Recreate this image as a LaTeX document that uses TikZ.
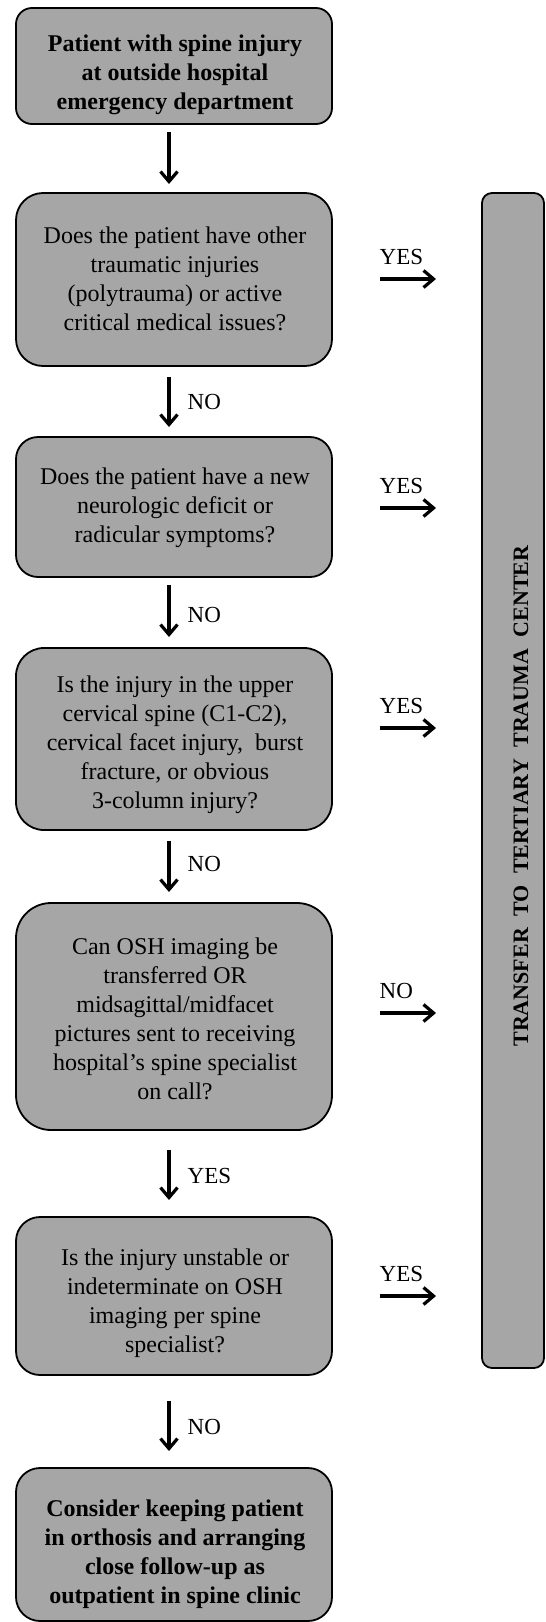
\documentclass[tikz,border=0pt]{standalone}
\usepackage{fontspec}
\setmainfont{Liberation Serif}
\usetikzlibrary{arrows.meta,calc}
\definecolor{boxgray}{RGB}{166,166,166}
\tikzset{
  flowbox/.style={draw=black, fill=boxgray, line width=1.8pt, outer sep=0pt,
    minimum width=316pt, inner sep=0pt},
  boxtext/.style={align=center, inner sep=0pt, font=\fontsize{24}{29}\selectfont},
  boldtext/.style={boxtext, font=\fontsize{24}{29}\selectfont\bfseries},
  varr/.style={line width=3.4pt, -{Straight Barb[length=10pt,width=17pt,line width=3.2pt]}},
  harr/.style={line width=3.4pt, -{Straight Barb[length=10pt,width=17pt,line width=3.2pt]},
    shorten <=48pt, shorten >=46pt},
  vlab/.style={anchor=west, xshift=17pt, inner sep=0pt, font=\fontsize{23}{27}\selectfont},
  hlab/.style={pos=0, anchor=base west, xshift=46pt, yshift=15pt, inner sep=0pt,
    font=\fontsize{23}{27}\selectfont}
}
\begin{document}
\begin{tikzpicture}[x=1pt,y=1pt]
\useasboundingbox (0,0) rectangle (546,-1622);
% boxes
\node[flowbox, minimum height=116pt, rounded corners=16pt] (b1) at (174,-66) {};
\node[flowbox, minimum height=173pt, rounded corners=27pt] (b2) at (174,-279.5) {};
\node[flowbox, minimum height=140pt, rounded corners=22pt] (b3) at (174,-507) {};
\node[flowbox, minimum height=182pt, rounded corners=28pt] (b4) at (174,-739) {};
\node[flowbox, minimum height=227pt, rounded corners=35pt] (b5) at (174,-1016.5) {};
\node[flowbox, minimum height=158pt, rounded corners=24pt] (b6) at (174,-1296) {};
\node[flowbox, minimum height=153pt, rounded corners=24pt] (b7) at (174,-1544.5) {};
\node[flowbox, minimum width=62pt, minimum height=1175pt, rounded corners=10pt] (bar) at (513,-780.5) {};
% texts
\node[boldtext] (t1) at (175,-75) {Patient with spine injury\\at outside hospital\\emergency department};
\node[boxtext] (t2) at (175,-279) {Does the patient have other\\traumatic injuries\\(polytrauma) or active\\critical medical issues?};
\node[boxtext] (t3) at (175,-507.5) {Does the patient have a new\\neurologic deficit or\\radicular symptoms?};
\node[boxtext] (t4) at (175,-744.5) {Is the injury in the upper\\cervical spine (C1-C2),\\cervical facet injury,\ \ burst\\fracture, or obvious\\3-column injury?};
\node[boxtext] (t5) at (175,-1019) {Can OSH imaging be\\transferred OR\\midsagittal/midfacet\\pictures sent to receiving\\hospital’s spine specialist\\on call?};
\node[boxtext] (t6) at (175,-1303) {Is the injury unstable or\\indeterminate on OSH\\imaging per spine\\specialist?};
\node[boldtext] (t7) at (175,-1554) {Consider keeping patient\\in orthosis and arranging\\close follow-up as\\outpatient in spine clinic};
\node[rotate=90, inner sep=0pt, font=\fontsize{22}{26}\selectfont\bfseries] (bt) at (521,-796)
  {TRANSFER\hspace{6pt} TO\hspace{6pt} TERTIARY\hspace{6pt} TRAUMA\hspace{6pt} CENTER};
% vertical arrows
\draw[varr, shorten <=8pt, shorten >=9pt] ([xshift=-5pt]b1.south) -- ([xshift=-5pt]b2.north);
\draw[varr, shorten <=11pt, shorten >=10pt] ([xshift=-5pt]b2.south) -- ([xshift=-5pt]b3.north) node[vlab, midway] {NO};
\draw[varr, shorten <=8pt, shorten >=11pt] ([xshift=-5pt]b3.south) -- ([xshift=-5pt]b4.north) node[vlab, midway, yshift=-2pt] {NO};
\draw[varr, shorten <=11pt, shorten >=11pt] ([xshift=-5pt]b4.south) -- ([xshift=-5pt]b5.north) node[vlab, midway, yshift=3pt] {NO};
\draw[varr, shorten <=20pt, shorten >=17pt] ([xshift=-5pt]b5.south) -- ([xshift=-5pt]b6.north) node[vlab, midway, yshift=-2pt] {YES};
\draw[varr, shorten <=26pt, shorten >=17pt] ([xshift=-5pt]b6.south) -- ([xshift=-5pt]b7.north) node[vlab, midway, yshift=-5pt] {NO};
% horizontal arrows
\draw[harr] ([yshift=0.5pt]b2.east) -- ([yshift=0.5pt]b2.east -| bar.west) node[hlab] {YES};
\draw[harr] ([yshift=-1pt]b3.east) -- ([yshift=-1pt]b3.east -| bar.west) node[hlab] {YES};
\draw[harr] ([yshift=11pt]b4.east) -- ([yshift=11pt]b4.east -| bar.west) node[hlab] {YES};
\draw[harr] ([yshift=3.5pt]b5.east) -- ([yshift=3.5pt]b5.east -| bar.west) node[hlab] {NO};
\draw[harr] (b6.east) -- (b6.east -| bar.west) node[hlab] {YES};
\end{tikzpicture}
\end{document}
